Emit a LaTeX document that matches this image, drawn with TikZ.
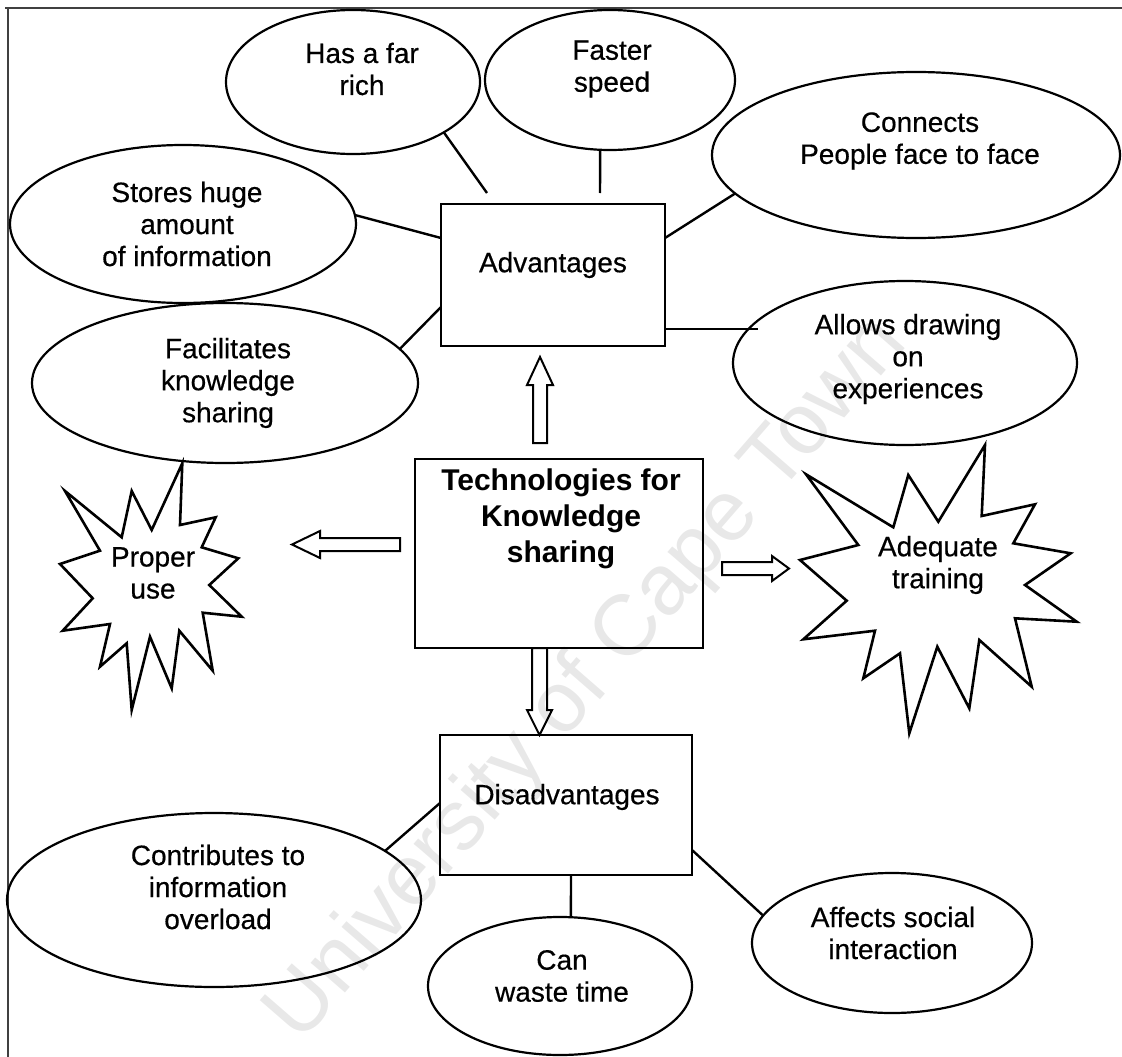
\documentclass[tikz,border=0pt]{standalone}
\usepackage{fontspec}
\setmainfont{Liberation Sans}
\newfontfamily\scanfont{Liberation Sans}[FakeBold=0.5]
\usetikzlibrary{shapes.geometric,calc}
\begin{document}
\begin{tikzpicture}[x=1pt,y=-1pt,
  every node/.style={inner sep=0pt, outer sep=0pt},
  ell/.style={draw, ellipse, line width=2.2pt},
  boxn/.style={draw, rectangle, line width=2.2pt},
  txt/.style={align=center, font=\scanfont\fontsize{28}{32}\selectfont},
  btxt/.style={align=center, font=\bfseries\fontsize{30}{36}\selectfont},
  con/.style={line width=2.4pt},
  blk/.style={draw, line width=2pt, line join=miter},
  starline/.style={draw, line width=2.6pt, line join=miter},
  frame/.style={draw=black!75, line width=1.6pt}
]
\useasboundingbox (0,0) rectangle (1122,1057);

% watermark
\node[rotate=49, text=black!9, font=\fontsize{86}{96}\selectfont] (wm) at (588,680) {University of Cape Town};

% frame
\draw[frame] (5,8) -- (1122,8);
\draw[frame] (8,8) -- (8,1057);

% boxes
\node[boxn, minimum width=224, minimum height=142] (adv) at (553,275) {};
\node[boxn, minimum width=288, minimum height=189] (tech) at (559,553.5) {};
\node[boxn, minimum width=252, minimum height=140] (dis) at (566,805) {};
\node[txt] (advT) at (553,265) {Advantages};
\node[btxt] (techT) at (561,519) {Technologies for\\Knowledge\\sharing};
\node[txt] (disT) at (567,797) {Disadvantages};

% ellipses
\node[ell, minimum width=254, minimum height=144] (has) at (353,82) {};
\node[ell, minimum width=250, minimum height=140] (fast) at (610,80) {};
\node[ell, minimum width=408, minimum height=166] (conn) at (916,155) {};
\node[ell, minimum width=346, minimum height=158] (stores) at (183,224) {};
\node[ell, minimum width=386, minimum height=160] (facil) at (225,383) {};
\node[ell, minimum width=344, minimum height=164] (allows) at (905,363) {};
\node[ell, minimum width=414, minimum height=174] (contrib) at (214,900) {};
\node[ell, minimum width=264, minimum height=138] (can) at (560,986) {};
\node[ell, minimum width=280, minimum height=140] (affects) at (892,943) {};

\node[txt] (hasT) at (362,69) {Has a far\\rich};
\node[txt] (fastT) at (612,69) {Faster\\speed};
\node[txt] (connT) at (920,141) {Connects\\People face to face};
\node[txt] (storesT) at (187,224) {Stores huge\\amount\\of information};
\node[txt] (facilT) at (228,383) {Facilitates\\knowledge\\sharing};
\node[txt] (allowsT) at (908,359) {Allows drawing\\on\\experiences};
\node[txt] (contribT) at (218,887) {Contributes to\\information\\overload};
\node[txt] (canT) at (562,976) {Can\\waste time};
\node[txt] (affectsT) at (893,933) {Affects social\\interaction};

% connectors
\coordinate (hasend) at (487,193);
\coordinate (fastend) at (600,193);
\coordinate (allowsend) at (758,329);
\draw[con] (has.-29) -- (hasend);
\draw[con] (fast.-98) -- (fastend);
\draw[con] (conn.-168) -- ($(adv.north east)+(0,34)$);
\draw[con] (stores.3) -- ($(adv.north west)+(0,34)$);
\draw[con] (facil.11) -- ($(adv.north west)+(0,103)$);
\draw[con] ($(adv.north east)+(0,125)$) -- (allowsend);
\draw[con] (contrib.16) -- ($(dis.north west)+(0,68)$);
\draw[con] ($(dis.south west)+(131,0)$) -- (can.81);
\draw[con] ($(dis.north east)+(0,115)$) -- (affects.168);

% block arrows
\draw[blk] (533,443) -- (533,385) -- (527,385) -- (540,357) -- (553,385) -- (547,385) -- (547,443) -- cycle;
\draw[blk] (532,648) -- (532,710) -- (527,710) -- (539.5,735) -- (552,710) -- (547,710) -- (547,648) -- cycle;
\draw[blk] (400,538) -- (320,538) -- (320,531) -- (292,544.5) -- (320,558) -- (320,551) -- (400,551) -- cycle;
\draw[blk] (722,562) -- (772,562) -- (772,556) -- (789,568.5) -- (772,581) -- (772,575) -- (722,575) -- cycle;

% stars
\draw[starline] (182.3,463.3) -- (180,525) -- (215.7,517.3) -- (201.7,547.3) -- (238.3,558.3)
  -- (209.3,585) -- (241.7,616.7) -- (202.7,612.7) -- (212.7,670.7) -- (179.3,630.7)
  -- (171.7,688.3) -- (150,636.7) -- (131.7,710) -- (126.7,643.3) -- (100,666.7)
  -- (110,624) -- (62.7,630.7) -- (92.7,598.3) -- (60,564) -- (100,550.7)
  -- (65,491) -- (121.7,537.3) -- (131.7,491) -- (151.7,530) -- cycle;
\draw[starline] (985,445) -- (981.7,516) -- (1035,504.3) -- (1013.3,543.3) -- (1070.7,553.3)
  -- (1025,585) -- (1076.7,621.7) -- (1015,618.3) -- (1031.7,686.7) -- (979.3,640)
  -- (969.3,708.3) -- (937.3,646.7) -- (909.3,733.3) -- (900,653.3) -- (863.3,678.3)
  -- (875,630.7) -- (803.3,639.3) -- (846.7,600.7) -- (800,560) -- (858.3,545)
  -- (806,474.3) -- (893.3,527.3) -- (908.3,475) -- (938.3,521.7) -- cycle;
\node[txt] (properT) at (153,573) {Proper\\use};
\node[txt] (adeqT) at (938,565) {Adequate\\training};
\end{tikzpicture}
\end{document}
